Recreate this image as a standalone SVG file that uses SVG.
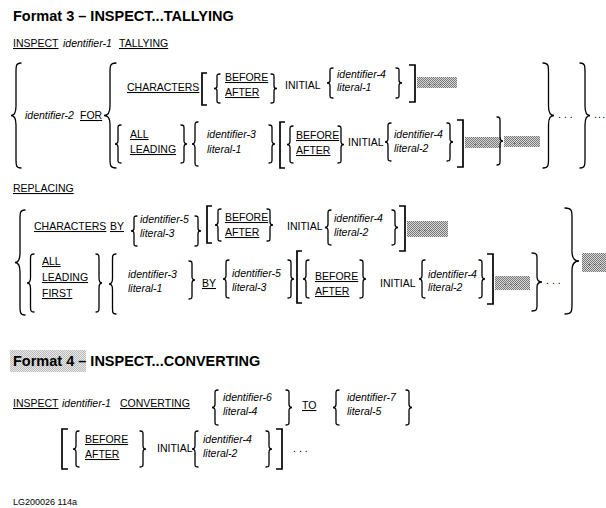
<svg xmlns="http://www.w3.org/2000/svg" xmlns:xlink="http://www.w3.org/1999/xlink" width="606" height="508" viewBox="0 0 606 508">
  <style>
    text { font-family: "Liberation Sans", Arial, sans-serif; font-size: 10.5px; fill: #000; }
    .i { font-style: italic; }
    .u { text-decoration: underline; text-decoration-thickness: 1px; text-underline-offset: 1.5px; }
    .h { font-size: 14.5px; font-weight: bold; }
    .s { font-size: 9px; }
    .dots { letter-spacing: 3px; }
    .gd { font-size: 9px; fill: #333; letter-spacing: 3px; }
    .b { fill: none; stroke: #000; stroke-width: 1.3; stroke-linecap: round; }
    .k { fill: none; stroke: #000; stroke-width: 1.7; }
    .g { fill: url(#tone); }
    .g2 { fill: url(#tone2); }
  </style>
  <defs>
    <!-- halftone grey used for shaded continuation boxes -->
    <pattern id="tone" width="2" height="2" patternUnits="userSpaceOnUse">
      <rect width="2" height="2" fill="#d8d8d8"/>
      <rect width="1" height="1" fill="#777"/>
      <rect x="1" y="1" width="1" height="1" fill="#777"/>
    </pattern>
    <pattern id="tone2" width="2" height="2" patternUnits="userSpaceOnUse">
      <rect width="2" height="2" fill="#e8e8e8"/>
      <rect width="1" height="1" fill="#bbb"/>
      <rect x="1" y="1" width="1" height="1" fill="#bbb"/>
    </pattern>
    <!-- unit braces and brackets, scaled in place -->
    <path id="lb" vector-effect="non-scaling-stroke" d="M1,0 C0.5,0 0.5,0.03 0.5,0.09 V0.41 C0.5,0.48 0.3,0.5 0,0.5 C0.3,0.5 0.5,0.52 0.5,0.59 V0.91 C0.5,0.97 0.5,1 1,1"/>
    <path id="rb" vector-effect="non-scaling-stroke" d="M0,0 C0.5,0 0.5,0.03 0.5,0.09 V0.41 C0.5,0.48 0.7,0.5 1,0.5 C0.7,0.5 0.5,0.52 0.5,0.59 V0.91 C0.5,0.97 0.5,1 0,1"/>
    <path id="lk" vector-effect="non-scaling-stroke" d="M1,0 H0 V1 H1"/>
    <path id="rk" vector-effect="non-scaling-stroke" d="M0,0 H1 V1 H0"/>
  </defs>
  <rect width="606" height="508" fill="#fff"/>

  <!-- Format 3: INSPECT ... TALLYING / REPLACING -->
  <g id="format3">
    <text class="h" x="13" y="21">Format 3 – INSPECT...TALLYING</text>
    <text class="u" x="13" y="47">INSPECT</text>
    <text class="i" x="63" y="47">identifier-1</text>
    <text class="u" x="119" y="47">TALLYING</text>

    <g id="tallying">
      <use xlink:href="#lb" class="b" transform="translate(11,63) scale(10,105)"/>
      <text class="i" x="25" y="119">identifier-2</text>
      <text class="u" x="80" y="119">FOR</text>
      <use xlink:href="#lb" class="b" transform="translate(104,63) scale(12,105)"/>

      <!-- CHARACTERS alternative -->
      <text class="u" x="127" y="91">CHARACTERS</text>
      <use xlink:href="#lk" class="k" transform="translate(202,73) scale(5,32)"/>
      <use xlink:href="#lb" class="b" transform="translate(214,74) scale(6,29)"/>
      <text class="u" x="225" y="81">BEFORE</text>
      <text class="u" x="225" y="96">AFTER</text>
      <use xlink:href="#rb" class="b" transform="translate(271,74) scale(6,29)"/>
      <text x="285" y="89">INITIAL</text>
      <use xlink:href="#lb" class="b" transform="translate(327,68) scale(6,30)"/>
      <text class="i" x="337" y="78">identifier-4</text>
      <text class="i" x="337" y="91">literal-1</text>
      <use xlink:href="#rb" class="b" transform="translate(396,68) scale(6,30)"/>
      <use xlink:href="#rk" class="k" transform="translate(409,65) scale(6,37)"/>
      <rect class="g" x="417" y="77" width="40" height="11"/>
      <text class="gd" x="428" y="85">...</text>

      <!-- ALL / LEADING alternative -->
      <use xlink:href="#lb" class="b" transform="translate(115,125) scale(6,38)"/>
      <text class="u" x="130" y="138">ALL</text>
      <text class="u" x="130" y="153">LEADING</text>
      <use xlink:href="#rb" class="b" transform="translate(181,125) scale(6,38)"/>
      <use xlink:href="#lb" class="b" transform="translate(192,122) scale(6,44)"/>
      <text class="i" x="207" y="138">identifier-3</text>
      <text class="i" x="207" y="153">literal-1</text>
      <use xlink:href="#rb" class="b" transform="translate(269,125) scale(6,38)"/>
      <use xlink:href="#lk" class="k" transform="translate(280,122) scale(5,46)"/>
      <use xlink:href="#lb" class="b" transform="translate(287,126) scale(6,37)"/>
      <text class="u" x="296" y="139">BEFORE</text>
      <text class="u" x="296" y="154">AFTER</text>
      <use xlink:href="#rb" class="b" transform="translate(338,126) scale(6,37)"/>
      <text x="348" y="146">INITIAL</text>
      <use xlink:href="#lb" class="b" transform="translate(385,123) scale(6,38)"/>
      <text class="i" x="394" y="138">identifier-4</text>
      <text class="i" x="394" y="152">literal-2</text>
      <use xlink:href="#rb" class="b" transform="translate(447,123) scale(6,38)"/>
      <use xlink:href="#rk" class="k" transform="translate(457,120) scale(6,47)"/>
      <rect class="g" x="465" y="137" width="36" height="11"/>
      <text class="gd" x="474" y="145">...</text>
      <use xlink:href="#rb" class="b" transform="translate(497,117) scale(6,48)"/>
      <rect class="g" x="504" y="136" width="36" height="11"/>
      <text class="gd" x="513" y="144">...</text>

      <use xlink:href="#rb" class="b" transform="translate(543,63) scale(11,105)"/>
      <text class="dots" x="558" y="118">...</text>
      <use xlink:href="#rb" class="b" transform="translate(580,63) scale(10,105)"/>
      <text x="594" y="118" style="letter-spacing:1.2px">...</text>
    </g>

    <g id="replacing">
      <text class="u" x="13" y="192">REPLACING</text>
      <use xlink:href="#lb" class="b" transform="translate(15,210) scale(10,105)"/>

      <!-- CHARACTERS BY alternative -->
      <text class="u" x="34" y="230">CHARACTERS</text>
      <text class="u" x="110" y="230">BY</text>
      <use xlink:href="#lb" class="b" transform="translate(131,216) scale(6,30)"/>
      <text class="i" x="140" y="223">identifier-5</text>
      <text class="i" x="140" y="237">literal-3</text>
      <use xlink:href="#rb" class="b" transform="translate(195,216) scale(6,30)"/>
      <use xlink:href="#lk" class="k" transform="translate(207,206) scale(5,37)"/>
      <use xlink:href="#lb" class="b" transform="translate(215,209) scale(6,32)"/>
      <text class="u" x="225" y="221">BEFORE</text>
      <text class="u" x="225" y="236">AFTER</text>
      <use xlink:href="#rb" class="b" transform="translate(267,209) scale(6,32)"/>
      <text x="287" y="230">INITIAL</text>
      <use xlink:href="#lb" class="b" transform="translate(325,210) scale(6,35)"/>
      <text class="i" x="334" y="222">identifier-4</text>
      <text class="i" x="334" y="236">literal-2</text>
      <use xlink:href="#rb" class="b" transform="translate(392,210) scale(6,35)"/>
      <use xlink:href="#rk" class="k" transform="translate(399,206) scale(6,45)"/>
      <rect class="g" x="407" y="221" width="41" height="16"/>
      <text class="gd" x="418" y="231">...</text>

      <!-- ALL / LEADING / FIRST alternative -->
      <use xlink:href="#lb" class="b" transform="translate(27,254) scale(7,58)"/>
      <text class="u" x="42" y="265">ALL</text>
      <text class="u" x="42" y="281">LEADING</text>
      <text class="u" x="42" y="297">FIRST</text>
      <use xlink:href="#rb" class="b" transform="translate(96,254) scale(6,58)"/>
      <use xlink:href="#lb" class="b" transform="translate(109,254) scale(7,60)"/>
      <text class="i" x="128" y="278">identifier-3</text>
      <text class="i" x="128" y="292">literal-1</text>
      <use xlink:href="#rb" class="b" transform="translate(189,261) scale(6,38)"/>
      <text class="u" x="202" y="287">BY</text>
      <use xlink:href="#lb" class="b" transform="translate(223,260) scale(6,38)"/>
      <text class="i" x="232" y="277">identifier-5</text>
      <text class="i" x="232" y="291">literal-3</text>
      <use xlink:href="#rb" class="b" transform="translate(288,260) scale(6,38)"/>
      <use xlink:href="#lk" class="k" transform="translate(297,251) scale(5,52)"/>
      <use xlink:href="#lb" class="b" transform="translate(303,260) scale(6,38)"/>
      <text class="u" x="315" y="280">BEFORE</text>
      <text class="u" x="315" y="295">AFTER</text>
      <use xlink:href="#rb" class="b" transform="translate(360,260) scale(6,38)"/>
      <text x="380" y="287">INITIAL</text>
      <use xlink:href="#lb" class="b" transform="translate(419,260) scale(6,38)"/>
      <text class="i" x="428" y="278">identifier-4</text>
      <text class="i" x="428" y="291">literal-2</text>
      <use xlink:href="#rb" class="b" transform="translate(479,260) scale(6,38)"/>
      <use xlink:href="#rk" class="k" transform="translate(487,254) scale(6,50)"/>
      <rect class="g" x="495" y="276" width="35" height="14"/>
      <text class="gd" x="504" y="285">...</text>
      <use xlink:href="#rb" class="b" transform="translate(532,253) scale(10,58)"/>
      <text class="dots" x="546" y="284">...</text>

      <use xlink:href="#rb" class="b" transform="translate(565,208) scale(14,106)"/>
      <rect class="g" x="582" y="253" width="24" height="19"/>
      <text class="gd" x="588" y="265">...</text>
    </g>
  </g>

  <!-- Format 4: INSPECT ... CONVERTING -->
  <g id="format4">
    <rect class="g2" x="10" y="350" width="76" height="22"/>
    <text class="h" x="13" y="366">Format 4 – INSPECT...CONVERTING</text>

    <text class="u" x="13" y="407">INSPECT</text>
    <text class="i" x="62" y="407">identifier-1</text>
    <text class="u" x="120" y="407">CONVERTING</text>
    <use xlink:href="#lb" class="b" transform="translate(212,390) scale(6,35)"/>
    <text class="i" x="223" y="401">identifier-6</text>
    <text class="i" x="223" y="415">literal-4</text>
    <use xlink:href="#rb" class="b" transform="translate(286,390) scale(6,35)"/>
    <text class="u" x="302" y="409">TO</text>
    <use xlink:href="#lb" class="b" transform="translate(333,390) scale(6,35)"/>
    <text class="i" x="347" y="401">identifier-7</text>
    <text class="i" x="347" y="415">literal-5</text>
    <use xlink:href="#rb" class="b" transform="translate(406,390) scale(6,35)"/>

    <use xlink:href="#lk" class="k" transform="translate(62,429) scale(6,40)"/>
    <use xlink:href="#lb" class="b" transform="translate(73,431) scale(6,36)"/>
    <text class="u" x="85" y="443">BEFORE</text>
    <text class="u" x="85" y="458">AFTER</text>
    <use xlink:href="#rb" class="b" transform="translate(140,431) scale(6,36)"/>
    <text x="157" y="452">INITIAL</text>
    <use xlink:href="#lb" class="b" transform="translate(192,431) scale(6,36)"/>
    <text class="i" x="203" y="443">identifier-4</text>
    <text class="i" x="203" y="457">literal-2</text>
    <use xlink:href="#rb" class="b" transform="translate(266,431) scale(6,36)"/>
    <use xlink:href="#rk" class="k" transform="translate(276,429) scale(6,40)"/>
    <text class="dots" x="293" y="452">...</text>

    <text class="s" x="13" y="505">LG200026 114a</text>
  </g>
</svg>
